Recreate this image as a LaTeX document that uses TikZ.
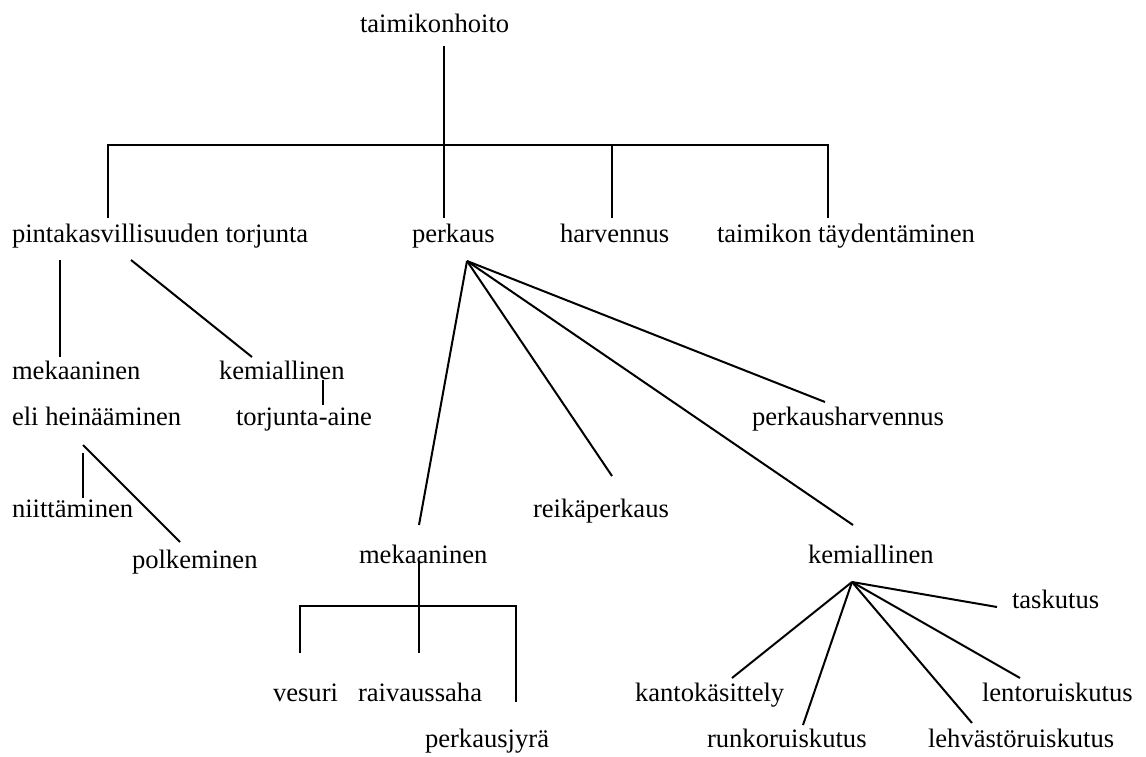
\documentclass[tikz,border=0pt]{standalone}
\usepackage{fontspec}
\setmainfont{Liberation Serif}
\begin{document}
\begin{tikzpicture}[x=0.5pt,y=-0.5pt,
  lbl/.style={anchor=base west,inner sep=0pt,outer sep=0pt,font=\fontsize{13.3pt}{16pt}\selectfont},
  conn/.style={line width=1pt,line cap=butt}]
\useasboundingbox[fill=white] (0,0) rectangle (1146,756);
% labels
\node[lbl] (root) at (360,32) {taimikonhoito};
\node[lbl] (pinta) at (12,242) {pintakasvillisuuden torjunta};
\node[lbl] (perkaus) at (412,242) {perkaus};
\node[lbl] (harv) at (560,242) {harvennus};
\node[lbl] (tayd) at (717,242) {taimikon täydentäminen};
\node[lbl] (mek1) at (12,379) {mekaaninen};
\node[lbl] (heina) at (12,425) {eli heinääminen};
\node[lbl] (kem1) at (219,379) {kemiallinen};
\node[lbl] (aine) at (236,425) {torjunta-aine};
\node[lbl] (niitt) at (12,517) {niittäminen};
\node[lbl] (polk) at (132,568) {polkeminen};
\node[lbl] (pharv) at (752,425) {perkausharvennus};
\node[lbl] (reika) at (533,517) {reikäperkaus};
\node[lbl] (mek2) at (359,563) {mekaaninen};
\node[lbl] (kem2) at (808,563) {kemiallinen};
\node[lbl] (task) at (1012,608) {taskutus};
\node[lbl] (vesuri) at (273,701) {vesuri};
\node[lbl] (raiv) at (358,701) {raivaussaha};
\node[lbl] (jyra) at (425,747) {perkausjyrä};
\node[lbl] (kanto) at (635,701) {kantokäsittely};
\node[lbl] (runko) at (707,747) {runkoruiskutus};
\node[lbl] (lehv) at (928,747) {lehvästöruiskutus};
\node[lbl] (lento) at (982,701) {lentoruiskutus};
% connector end points
\coordinate (rootS) at (444,46);
\coordinate (pintaN) at (108,218);
\coordinate (perkausN) at (444,218);
\coordinate (harvN) at (612,218);
\coordinate (taydN) at (828,218);
\coordinate (barL) at (108,145);
\coordinate (barR) at (828,145);
\coordinate (pintaS1) at (60,260);
\coordinate (pintaS2) at (131,260);
\coordinate (mek1N) at (60,357);
\coordinate (kem1N) at (252,357);
\coordinate (kem1S) at (323,380);
\coordinate (aineN) at (323,405);
\coordinate (heinaS1) at (83,453);
\coordinate (heinaS2) at (83,445);
\coordinate (niittN) at (83,498);
\coordinate (polkN) at (180,542);
\coordinate (perkausS) at (467,261);
\coordinate (mek2N) at (419,525);
\coordinate (reikaN) at (612,476);
\coordinate (kem2N) at (853,525);
\coordinate (pharvN) at (825,402);
\coordinate (mek2S) at (419,562);
\coordinate (raivN) at (419,653);
\coordinate (vesuriN) at (300,653);
\coordinate (jyraN) at (516,702);
\coordinate (bar2L) at (300,606);
\coordinate (bar2R) at (516,606);
\coordinate (kem2S) at (852,582);
\coordinate (taskW) at (997,607);
\coordinate (kantoN) at (732,678);
\coordinate (runkoN) at (803,725);
\coordinate (lehvN) at (972,723);
\coordinate (lentoN) at (1020,678);
% connectors
\draw[conn] (rootS) -- (perkausN);
\draw[conn] (pintaN) -- (barL) -- (barR) -- (taydN);
\draw[conn] (harvN) -- (harvN |- barL);
\draw[conn] (pintaS1) -- (mek1N);
\draw[conn] (pintaS2) -- (kem1N);
\draw[conn] (kem1S) -- (aineN);
\draw[conn] (heinaS1) -- (niittN);
\draw[conn] (heinaS2) -- (polkN);
\draw[conn] (perkausS) -- (mek2N);
\draw[conn] (perkausS) -- (reikaN);
\draw[conn] (perkausS) -- (kem2N);
\draw[conn] (perkausS) -- (pharvN);
\draw[conn] (mek2S) -- (raivN);
\draw[conn] (vesuriN) -- (bar2L) -- (bar2R) -- (jyraN);
\draw[conn] (kem2S) -- (taskW);
\draw[conn] (kem2S) -- (kantoN);
\draw[conn] (kem2S) -- (runkoN);
\draw[conn] (kem2S) -- (lehvN);
\draw[conn] (kem2S) -- (lentoN);
\end{tikzpicture}
\end{document}
